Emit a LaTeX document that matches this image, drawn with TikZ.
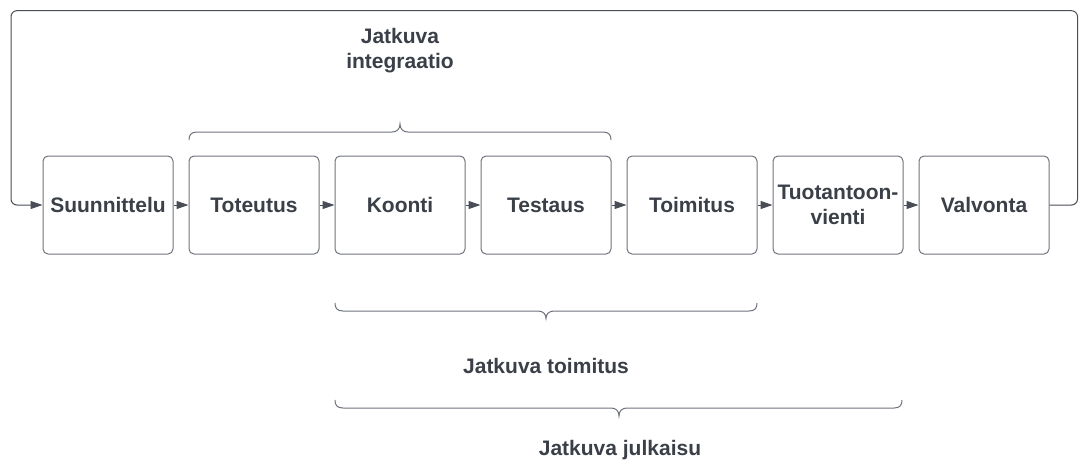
\documentclass[tikz,border=0pt]{standalone}
\usepackage{fontspec}
\setmainfont{Liberation Sans}
\usetikzlibrary{arrows.meta}
\definecolor{txt}{RGB}{58,63,72}
\definecolor{edge}{RGB}{110,115,124}
\definecolor{conn}{RGB}{72,77,86}
\tikzset{
  stage/.style={draw=edge, line width=1pt, rounded corners=5pt, minimum width=130pt, minimum height=98pt, inner sep=0pt, align=center, text=txt, font=\fontsize{21}{25}\selectfont\bfseries},
  flow/.style={draw=conn, line width=1pt, -{Triangle[length=12pt,width=8pt]}},
  brace/.style={draw=edge, line width=1pt},
  lbl/.style={text=txt, align=center, font=\fontsize{21}{25}\selectfont\bfseries, inner sep=0pt}
}
\begin{document}
\begin{tikzpicture}[x=1pt,y=-1pt]
\useasboundingbox (0,0) rectangle (1079,464);
\node[stage] (s1) at (108,205) {Suunnittelu};
\node[stage] (s2) at (254,205) {Toteutus};
\node[stage] (s3) at (400,205) {Koonti};
\node[stage] (s4) at (546,205) {Testaus};
\node[stage] (s5) at (692,205) {Toimitus};
\node[stage] (s6) at (838,205) {Tuotantoon-\\vienti};
\node[stage] (s7) at (984,205) {Valvonta};
\foreach \a/\b in {s1/s2,s2/s3,s3/s4,s4/s5,s5/s6,s6/s7}
  \draw[flow] (\a.east) -- (\b.west);
% feedback loop
\coordinate (lr) at (1077.5,205);
\coordinate (tr) at (1077.5,10.7);
\coordinate (tl) at (11,10.7);
\coordinate (ll) at (11,205);
\draw[flow, rounded corners=6pt] (s7.east) -- (lr) -- (tr) -- (tl) -- (ll) -- (s1.west);
% brace: Jatkuva integraatio
\draw[brace] (189,140) .. controls (189,135) and (191,132) .. (197,132) -- (392,132)
  .. controls (397,132) and (400,129) .. (400,124)
  .. controls (400,129) and (403,132) .. (408,132) -- (603,132)
  .. controls (609,132) and (611,135) .. (611,140);
\node[lbl, anchor=base] (ci) at (400,68.3) {Jatkuva\\integraatio};
% brace: Jatkuva toimitus
\draw[brace] (335,303) .. controls (335,308) and (337,311) .. (343,311) -- (538,311)
  .. controls (543,311) and (546,314) .. (546,318.5)
  .. controls (546,314) and (549,311) .. (554,311) -- (749,311)
  .. controls (755,311) and (757,308) .. (757,303);
\node[lbl, anchor=base] (cd) at (546,373) {Jatkuva toimitus};
% brace: Jatkuva julkaisu
\draw[brace] (335,400) .. controls (335,405) and (337,408) .. (343,408) -- (611,408)
  .. controls (616,408) and (619,411) .. (619,416)
  .. controls (619,411) and (622,408) .. (627,408) -- (894,408)
  .. controls (900,408) and (902,405) .. (902,400);
\node[lbl, anchor=base] (cr) at (620,455) {Jatkuva julkaisu};
\end{tikzpicture}
\end{document}
